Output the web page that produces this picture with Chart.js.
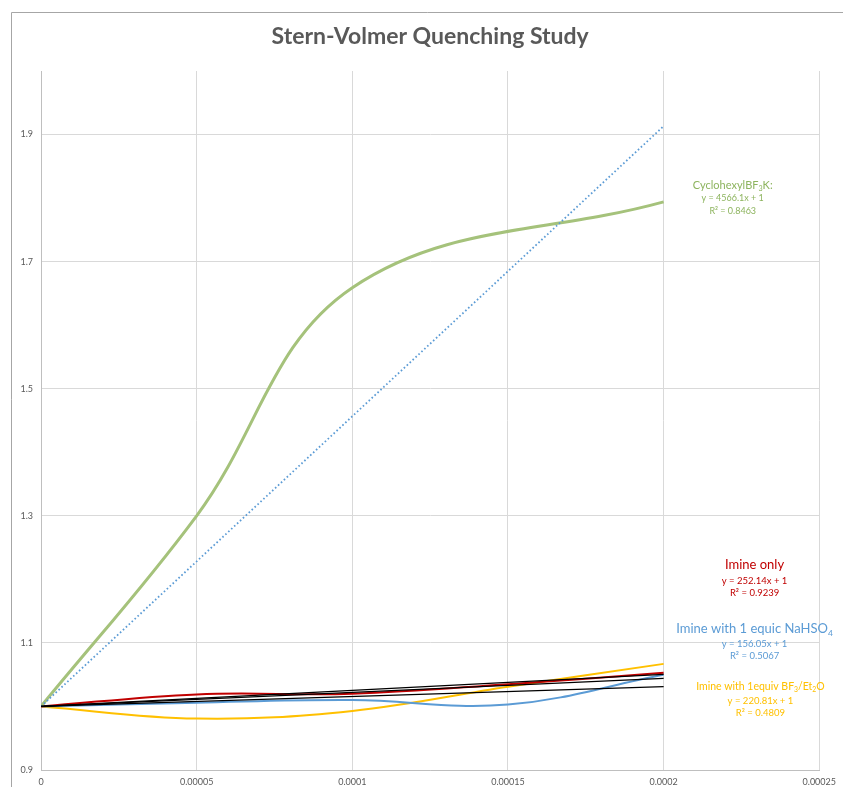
<!DOCTYPE html>
<html>
<head>
<meta charset="utf-8">
<script src="https://cdn.jsdelivr.net/npm/chart.js@4"></script>
<style>
  html, body { margin: 0; padding: 0; background: #ffffff; }
  #wrap { width: 843px; height: 787px; position: relative; }
</style>
</head>
<body>
<div id="wrap"><canvas id="chart"></canvas></div>
<script>
// Quencher concentration (M) and I0/I ratios for each run
const concCyclohexyl = [0, 0.00005, 0.0001, 0.0002];
const ratioCyclohexyl = [1.0, 1.30, 1.659, 1.794];

const concImine = [0, 0.00005, 0.0001, 0.00015, 0.0002];
const ratioImineOnly = [1.0, 1.019, 1.020, 1.035, 1.053];
const ratioImineNaHSO4 = [1.0, 1.006, 1.010, 1.003, 1.050];
const ratioImineBF3 = [1.0, 0.981, 0.993, 1.031, 1.067];

// Linear fits (intercept fixed at 1): slopes and R²
const slopeCyclohexyl = 4566.1, r2Cyclohexyl = 0.8463;
const slopeImineOnly = 252.14, r2ImineOnly = 0.9239;
const slopeImineNaHSO4 = 156.05, r2ImineNaHSO4 = 0.5067;
const slopeImineBF3 = 220.81, r2ImineBF3 = 0.4809;
const fitEndConc = 0.0002;

// Axis ticks
const xTickValues = [0, 0.00005, 0.0001, 0.00015, 0.0002, 0.00025];
const xTickLabels = ['0', '0.00005', '0.0001', '0.00015', '0.0002', '0.00025'];
const yTickValues = [0.9, 1.1, 1.3, 1.5, 1.7, 1.9];
const yTickLabels = ['0.9', '1.1', '1.3', '1.5', '1.7', '1.9'];

const GREEN = '#A5C27B', RED = '#C00000', BLUE = '#5B9BD5', GOLD = '#FFC000';
const FONT = 'Lato, "Open Sans", sans-serif';

function points(xs, ys) { return xs.map((x, i) => ({ x: x, y: ys[i] })); }
function fitLine(slope) { return [{ x: 0, y: 1 }, { x: fitEndConc, y: 1 + slope * fitEndConc }]; }

const datasets = [
  { label: 'CyclohexylBF3K', data: points(concCyclohexyl, ratioCyclohexyl), borderColor: GREEN, borderWidth: 3, tension: 0.38, order: 2 },
  { label: 'Imine only', data: points(concImine, ratioImineOnly), borderColor: RED, borderWidth: 2, tension: 0.38, order: 2 },
  { label: 'Imine with 1 equic NaHSO4', data: points(concImine, ratioImineNaHSO4), borderColor: BLUE, borderWidth: 2, tension: 0.38, order: 2 },
  { label: 'Imine with 1equiv BF3/Et2O', data: points(concImine, ratioImineBF3), borderColor: GOLD, borderWidth: 2, tension: 0.38, order: 2 },
  { label: 'Fit CyclohexylBF3K', data: fitLine(slopeCyclohexyl), borderColor: BLUE, borderWidth: 1.8, borderDash: [1.6, 2.4], order: 1 },
  { label: 'Fit imine only', data: fitLine(slopeImineOnly), borderColor: '#000000', borderWidth: 1.3, order: 0 },
  { label: 'Fit NaHSO4', data: fitLine(slopeImineNaHSO4), borderColor: '#000000', borderWidth: 1.3, order: 0 },
  { label: 'Fit BF3', data: fitLine(slopeImineBF3), borderColor: '#000000', borderWidth: 1.3, order: 0 }
].map(d => Object.assign({ showLine: true, pointRadius: 0, fill: false }, d));

// Text blocks next to the curves: [text, subscript?] segments per line
const annotations = [
  { x: 0.0002222, y: 1.8197, color: '#8DB45E', lines: [
      { size: 11, segs: [['CyclohexylBF', 0], ['3', 1], ['K:', 0]] },
      { size: 9, dy: 13, segs: [['y = ' + slopeCyclohexyl + 'x + 1', 0]] },
      { size: 9, dy: 26, segs: [['R\u00B2 = ' + r2Cyclohexyl, 0]] } ] },
  { x: 0.0002292, y: 1.2228, color: RED, lines: [
      { size: 13, segs: [['Imine only', 0]] },
      { size: 9.5, dy: 16, segs: [['y = ' + slopeImineOnly + 'x + 1', 0]] },
      { size: 9.5, dy: 28, segs: [['R\u00B2 = ' + r2ImineOnly, 0]] } ] },
  { x: 0.0002292, y: 1.1220, color: BLUE, lines: [
      { size: 13, segs: [['Imine with 1 equic NaHSO', 0], ['4', 1]] },
      { size: 9.5, dy: 15, segs: [['y = ' + slopeImineNaHSO4 + 'x + 1', 0]] },
      { size: 9.5, dy: 27, segs: [['R\u00B2 = ' + r2ImineNaHSO4, 0]] } ] },
  { x: 0.0002311, y: 1.0307, color: GOLD, lines: [
      { size: 10.5, segs: [['Imine with 1equiv BF', 0], ['3', 1], ['/Et', 0], ['2', 1], ['O', 0]] },
      { size: 9.5, dy: 14, segs: [['y = ' + slopeImineBF3 + 'x + 1', 0]] },
      { size: 9.5, dy: 26, segs: [['R\u00B2 = ' + r2ImineBF3, 0]] } ] }
];

function drawRich(ctx, segs, cx, cy, size, color) {
  const subSize = size * 0.65;
  let total = 0;
  segs.forEach(s => {
    ctx.font = (s[1] ? subSize : size) + 'px ' + FONT;
    total += ctx.measureText(s[0]).width;
  });
  let x = cx - total / 2;
  ctx.fillStyle = color;
  ctx.textAlign = 'left';
  ctx.textBaseline = 'middle';
  segs.forEach(s => {
    ctx.font = (s[1] ? subSize : size) + 'px ' + FONT;
    ctx.fillText(s[0], x, s[1] ? cy + size * 0.3 : cy);
    x += ctx.measureText(s[0]).width;
  });
}

const decorPlugin = {
  id: 'decor',
  beforeDraw(chart) {
    const ctx = chart.ctx;
    ctx.save();
    ctx.fillStyle = '#ffffff';
    ctx.fillRect(0, 0, chart.width, chart.height);
    ctx.strokeStyle = '#A6A6A6';
    ctx.lineWidth = 1;
    ctx.beginPath();
    ctx.moveTo(11.5, chart.height);
    ctx.lineTo(11.5, 12.5);
    ctx.lineTo(chart.width, 12.5);
    ctx.stroke();
    ctx.restore();
  },
  afterDraw(chart) {
    const ctx = chart.ctx;
    const xs = chart.scales.x, ys = chart.scales.y;
    ctx.save();
    ctx.font = 'bold 23px ' + FONT;
    ctx.fillStyle = '#595959';
    ctx.textAlign = 'center';
    ctx.textBaseline = 'middle';
    ctx.fillText('Stern-Volmer Quenching Study', (chart.chartArea.left + chart.chartArea.right) / 2, 37);
    annotations.forEach(a => {
      const cx = xs.getPixelForValue(a.x);
      const cy = ys.getPixelForValue(a.y);
      a.lines.forEach(l => drawRich(ctx, l.segs, cx, cy + (l.dy || 0), l.size, a.color));
    });
    ctx.restore();
  }
};

new Chart(document.getElementById('chart'), {
  type: 'scatter',
  data: { datasets: datasets },
  plugins: [decorPlugin],
  options: {
    responsive: true,
    maintainAspectRatio: false,
    animation: false,
    layout: { padding: { top: 71, right: 20, left: 0, bottom: 0 } },
    plugins: { legend: { display: false }, tooltip: { enabled: false }, title: { display: false } },
    scales: {
      x: {
        type: 'linear', min: 0, max: 0.00025,
        afterBuildTicks: axis => { axis.ticks = xTickValues.map(v => ({ value: v })); },
        afterFit: axis => { axis.height = 17; },
        ticks: { callback: (v, i) => xTickLabels[i], color: '#595959', font: { family: FONT, size: 9 }, padding: 7, maxRotation: 0 },
        grid: { color: '#D9D9D9', lineWidth: 1, drawTicks: false },
        border: { color: '#BFBFBF' }
      },
      y: {
        type: 'linear', min: 0.9, max: 2.0,
        afterBuildTicks: axis => { axis.ticks = yTickValues.map(v => ({ value: v })); },
        afterFit: axis => { axis.width = 41; },
        ticks: { callback: (v, i) => yTickLabels[i], color: '#595959', font: { family: FONT, size: 9 }, padding: 8 },
        grid: { color: '#D9D9D9', lineWidth: 1, drawTicks: false },
        border: { color: '#BFBFBF' }
      }
    }
  }
});
</script>
</body>
</html>
